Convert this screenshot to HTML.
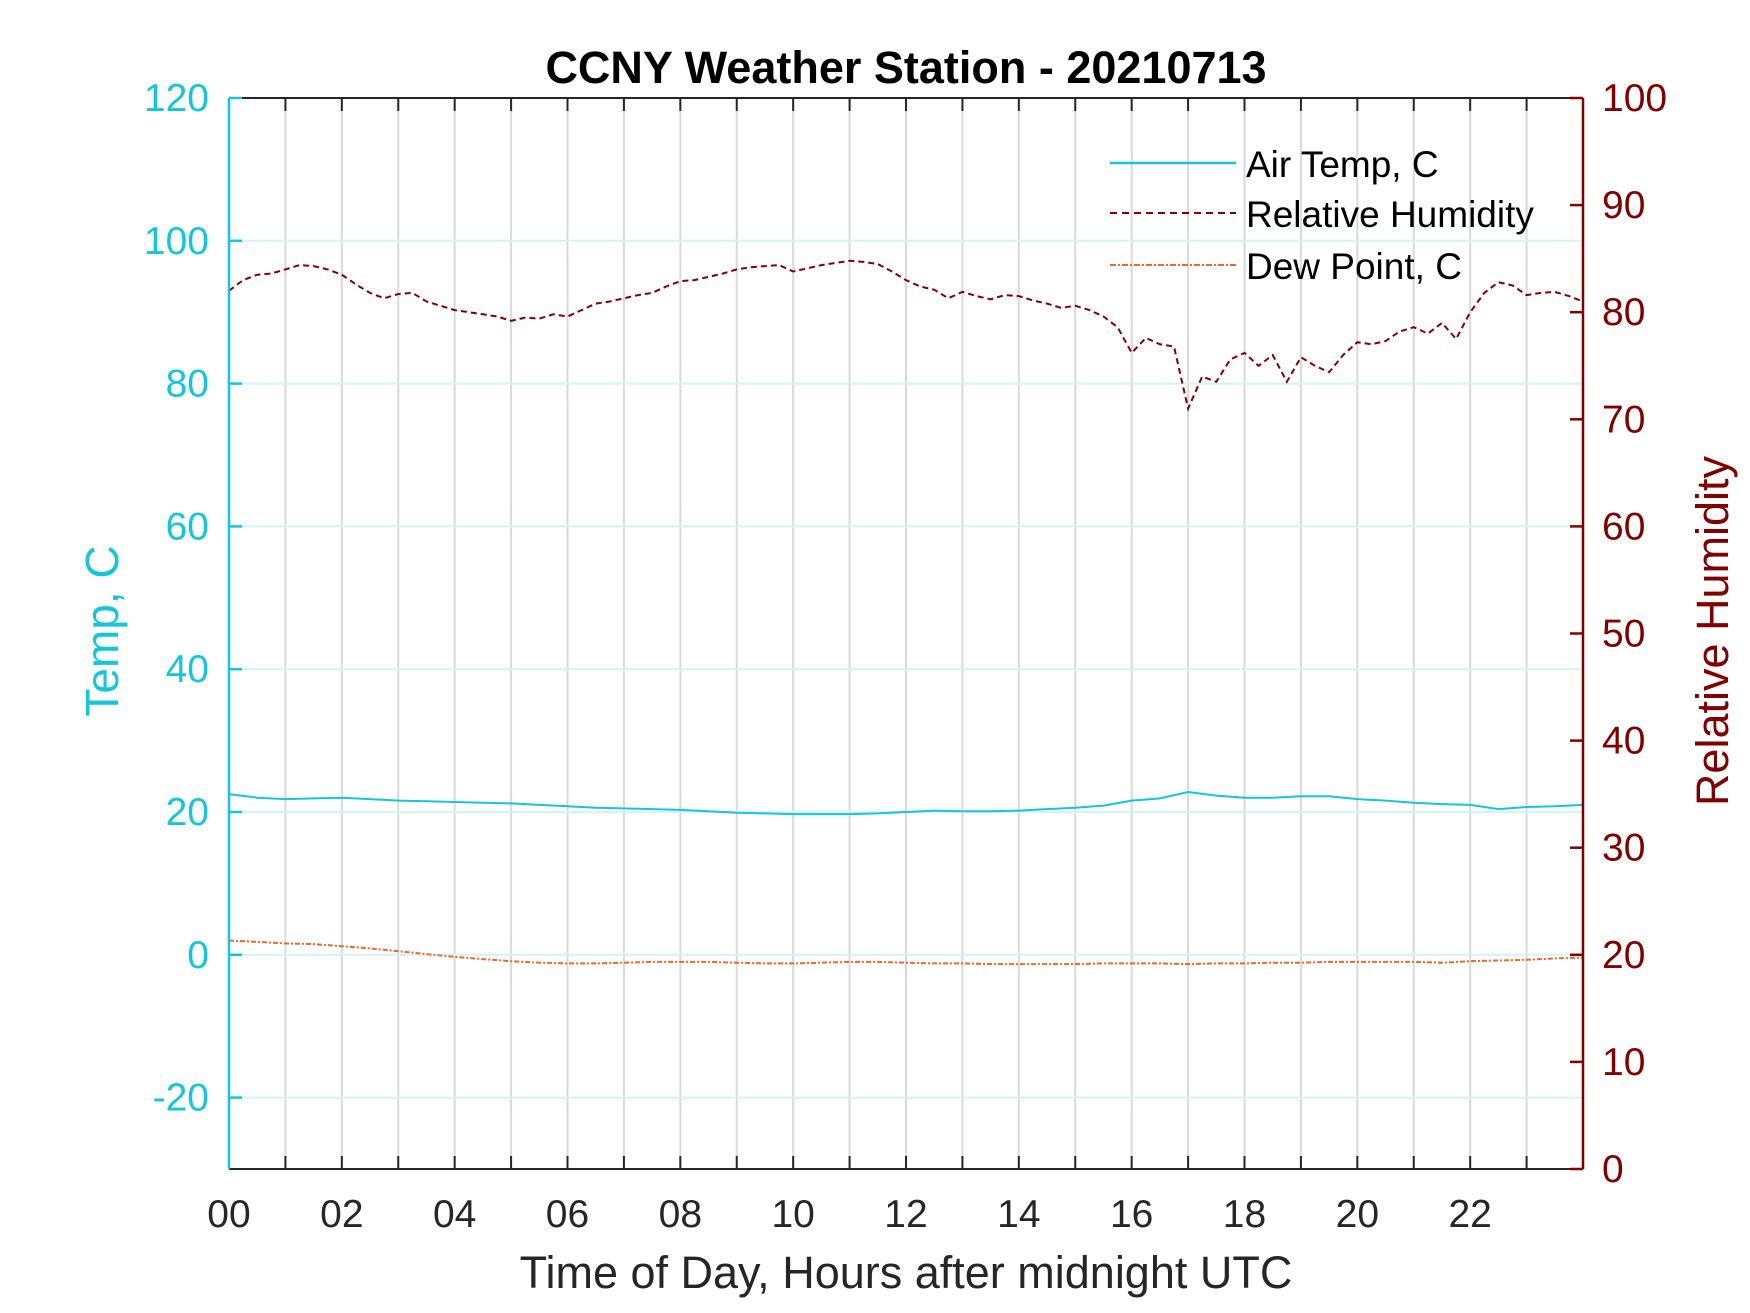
<!DOCTYPE html>
<html><head><meta charset="utf-8"><style>
html,body{margin:0;padding:0;background:#fff;}
svg{display:block;font-family:"Liberation Sans",Arial,sans-serif;}
</style></head><body>
<svg id="chart" width="1750" height="1313" viewBox="0 0 1750 1313" xmlns="http://www.w3.org/2000/svg">
<rect x="0" y="0" width="1750" height="1313" fill="#fff"/>
<g id="grid"></g>
<g id="series"></g>
<g id="axes"></g>
<text x="906" y="83" text-anchor="middle" font-size="45" font-weight="bold" fill="#000">CCNY Weather Station - 20210713</text>
<text transform="translate(118,631) rotate(-90)" text-anchor="middle" font-size="46" fill="#17c5d8">Temp, C</text>
<text transform="translate(1728,631) rotate(-90)" text-anchor="middle" font-size="45" fill="#800000">Relative Humidity</text>
<text x="906" y="1288" text-anchor="middle" font-size="45" fill="#262626">Time of Day, Hours after midnight UTC</text>
<g>
<line x1="1110" y1="163" x2="1236" y2="163" stroke="#17c5d8" stroke-width="2.5"/>
<text x="1246" y="177" font-size="37" fill="#000">Air Temp, C</text>
<line x1="1110" y1="213" x2="1236" y2="213" stroke="#800000" stroke-width="2" stroke-dasharray="7,5"/>
<text x="1246" y="227" font-size="37" fill="#000">Relative Humidity</text>
<line x1="1110" y1="265" x2="1236" y2="265" stroke="#e8692a" stroke-width="2" stroke-dasharray="6,2,2,2"/>
<text x="1246" y="279" font-size="37" fill="#000">Dew Point, C</text>
</g>
</svg>
<script>
const hours = [0,0.5,1,1.5,2,2.5,3,3.5,4,4.5,5,5.5,6,6.5,7,7.5,8,8.5,9,9.5,10,10.5,11,11.5,12,12.5,13,13.5,14,14.5,15,15.5,16,16.5,17,17.5,18,18.5,19,19.5,20,20.5,21,21.5,22,22.5,23,23.5,24];
const rhHours = Array.from({length:97},(_, i)=>i*0.25);
const rhValues = [82,83,83.5,83.6,84,84.4,84.3,84,83.5,82.6,81.8,81.3,81.7,81.8,81,80.6,80.2,80,79.8,79.6,79.2,79.5,79.4,79.8,79.6,80.2,80.8,81,81.3,81.6,81.8,82.4,82.9,83,83.3,83.6,84,84.2,84.3,84.4,83.8,84.1,84.4,84.6,84.8,84.7,84.5,83.8,83,82.4,82.1,81.3,81.9,81.5,81.2,81.6,81.5,81.1,80.8,80.4,80.6,80.2,79.6,78.6,76.2,77.6,77,76.8,71,74,73.5,75.6,76.2,75,76,73.5,75.8,75,74.4,76,77.2,77,77.3,78.2,78.6,78,79,77.5,80,81.8,82.8,82.5,81.6,81.8,81.9,81.5,81];
const airTemp = [22.5,22,21.8,21.9,22,21.8,21.6,21.5,21.4,21.3,21.2,21,20.8,20.6,20.5,20.4,20.3,20.1,19.9,19.8,19.7,19.7,19.7,19.8,20,20.2,20.1,20.1,20.2,20.4,20.6,20.9,21.6,21.9,22.8,22.3,22,22,22.2,22.2,21.8,21.6,21.3,21.1,21,20.4,20.7,20.8,21];
const dewPoint = [2,1.8,1.6,1.5,1.2,0.9,0.5,0.1,-0.3,-0.6,-0.9,-1.1,-1.2,-1.2,-1.1,-1,-1,-1,-1.1,-1.2,-1.2,-1.1,-1,-1,-1.1,-1.2,-1.2,-1.3,-1.3,-1.3,-1.3,-1.2,-1.2,-1.2,-1.3,-1.2,-1.2,-1.1,-1.1,-1,-1,-1,-1,-1.1,-0.9,-0.8,-0.7,-0.5,-0.4];
const tempTicks = [-20,0,20,40,60,80,100,120];
const rhTicks = [0,10,20,30,40,50,60,70,80,90,100];
const xTickLabels = ["00","02","04","06","08","10","12","14","16","18","20","22"];

const L=229,R=1583,T=98,B=1169;
const xS=h=>L+(h/24)*(R-L);
const yT=v=>T+(120-v)/150*(B-T);
const yRH=v=>B-(v/100)*(B-T);
const NS="http://www.w3.org/2000/svg";
function mk(tag,attrs,parent){const e=document.createElementNS(NS,tag);for(const k in attrs)e.setAttribute(k,attrs[k]);parent.appendChild(e);return e;}
const grid=document.getElementById('grid'),series=document.getElementById('series'),axes=document.getElementById('axes');

for(let h=1;h<24;h++){
  const g=mk('line',{x1:xS(h),y1:T,x2:xS(h),y2:B,stroke:'#d9d9d9','stroke-width':2},grid);
  
  
}
tempTicks.forEach(v=>{
  const g=mk('line',{x1:L,y1:yT(v),x2:R,y2:yT(v),stroke:'#d4f3f7','stroke-width':2},grid);
  
  
});

function path(xs,vals,ys){return vals.map((v,i)=>(i?'L':'M')+xS(xs[i]).toFixed(1)+','+ys(v).toFixed(1)).join(' ');}
const p1=mk('path',{d:path(hours,airTemp,yT),fill:'none',stroke:'#17c5d8','stroke-width':2},series);


const p2=mk('path',{d:path(rhHours,rhValues,yRH),fill:'none',stroke:'#800000','stroke-width':2,'stroke-dasharray':'6,4'},series);


const p3=mk('path',{d:path(hours,dewPoint,yT),fill:'none',stroke:'#e8692a','stroke-width':2,'stroke-dasharray':'5,2,2,2'},series);



let a=mk('line',{x1:L,y1:T,x2:R,y2:T,stroke:'#262626','stroke-width':2},axes);


a=mk('line',{x1:L,y1:B,x2:R,y2:B,stroke:'#262626','stroke-width':2},axes);


a=mk('line',{x1:L,y1:T,x2:L,y2:B,stroke:'#17c5d8','stroke-width':2.5},axes);


a=mk('line',{x1:R,y1:T,x2:R,y2:B,stroke:'#800000','stroke-width':2.5},axes);



for(let h=1;h<24;h++){
  let t=mk('line',{x1:xS(h),y1:T,x2:xS(h),y2:T+13,stroke:'#262626','stroke-width':2},axes);
  
  
  t=mk('line',{x1:xS(h),y1:B,x2:xS(h),y2:B-13,stroke:'#262626','stroke-width':2},axes);
  
  
}
xTickLabels.forEach((lab,i)=>{
  const t=mk('text',{x:xS(i*2),y:1227,'text-anchor':'middle','font-size':39,fill:'#262626'},axes);
  t.textContent=lab;
  
  
});
tempTicks.forEach(v=>{
  const k=mk('line',{x1:L,y1:yT(v),x2:L+13,y2:yT(v),stroke:'#17c5d8','stroke-width':2.5},axes);
  
  
  const t=mk('text',{x:209,y:yT(v)+13,'text-anchor':'end','font-size':39,fill:'#17c5d8'},axes);
  t.textContent=v;
  
  
});
rhTicks.forEach(v=>{
  const k=mk('line',{x1:R-13,y1:yRH(v),x2:R,y2:yRH(v),stroke:'#800000','stroke-width':2.5},axes);
  
  
  const t=mk('text',{x:1602,y:yRH(v)+13,'text-anchor':'start','font-size':39,fill:'#800000'},axes);
  t.textContent=v;
  
  
});
</script>
</body></html>
